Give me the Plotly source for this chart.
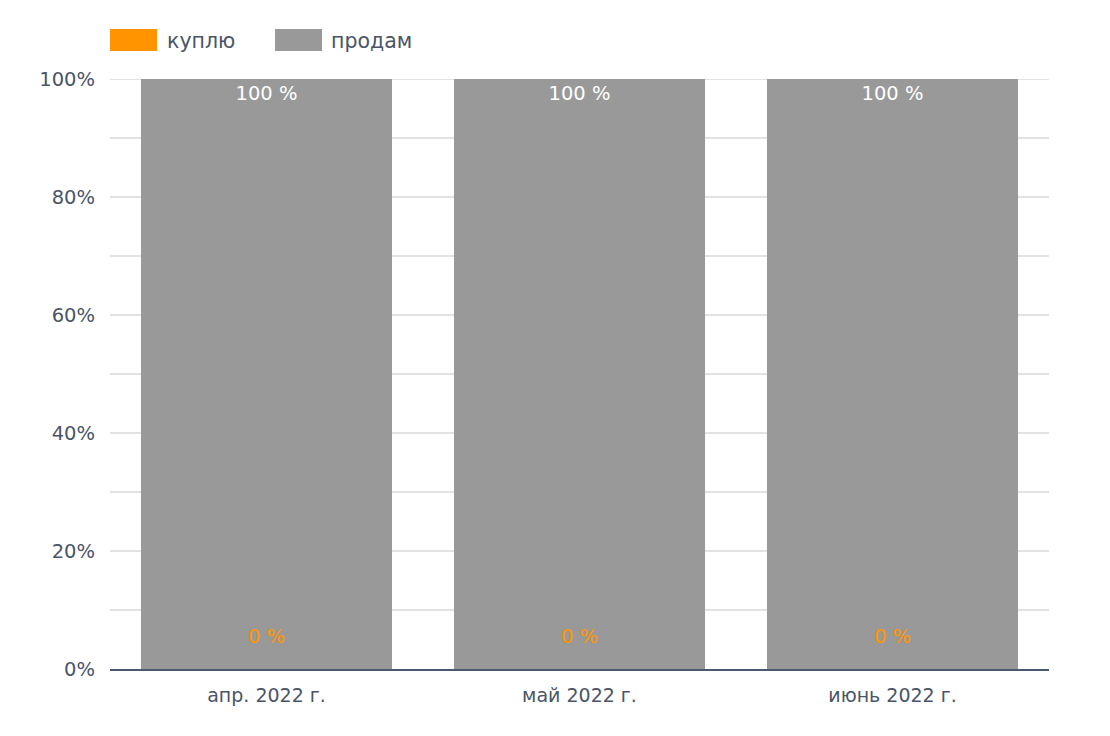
import plotly.graph_objects as go

months = ["апр. 2022 г.", "май 2022 г.", "июнь 2022 г."]
buy_pct = [0, 0, 0]
sell_pct = [100, 100, 100]
series_names = ["куплю", "продам"]

ORANGE = "#ff9400"
GRAY = "#999999"
TEXT = "#4a5568"
FONT = "DejaVu Sans, Noto Sans, sans-serif"

# plot area geometry (px) used to place the hand-drawn legend
L, R, T, B = 102, 69, 71, 75
W, H = 1110, 736
PW, PH = W - L - R, H - T - B


def px_x(x):
    return (x - L) / PW


def px_y(y):
    return (H - B - y) / PH


fig = go.Figure()

fig.add_trace(go.Bar(
    x=months, y=buy_pct, name=series_names[0],
    marker=dict(color=ORANGE, line=dict(width=0)),
    hoverinfo="skip",
))
fig.add_trace(go.Bar(
    x=months, y=sell_pct, name=series_names[1],
    marker=dict(color=GRAY, line=dict(width=0)),
    text=[f"{v} %" for v in sell_pct],
    textposition="inside", insidetextanchor="end",
    textfont=dict(color="white", size=19.5, family=FONT),
    constraintext="none",
    hoverinfo="skip",
))

# labels for the zero "куплю" segments
annotations = []
for m, v in zip(months, buy_pct):
    annotations.append(dict(
        x=m, y=v, xref="x", yref="y",
        text=f"{v} %", showarrow=False,
        yshift=33,
        font=dict(color=ORANGE, size=19.5, family=FONT),
    ))

# legend: large swatches like the original
shapes = []
legend_items = [(series_names[0], ORANGE, 102, 157), (series_names[1], GRAY, 267, 321)]
for name, color, x0, tx in legend_items:
    shapes.append(dict(
        type="rect", xref="paper", yref="paper",
        x0=px_x(x0), x1=px_x(x0 + 47), y0=px_y(43), y1=px_y(21),
        fillcolor=color, line=dict(width=0),
    ))
    annotations.append(dict(
        x=px_x(tx), y=px_y(33), xref="paper", yref="paper",
        xanchor="left", yanchor="middle", showarrow=False,
        text=name, font=dict(size=20.5, color=TEXT, family=FONT),
    ))

# horizontal gridlines every 10%
for g in range(10, 101, 10):
    shapes.append(dict(
        type="line", xref="paper", yref="y",
        x0=0, x1=1, y0=g, y1=g,
        line=dict(color="#d9d9d9", width=1.5), layer="below",
    ))

fig.update_layout(
    barmode="stack",
    bargap=0.2,
    width=W, height=H,
    paper_bgcolor="white",
    plot_bgcolor="white",
    font=dict(family=FONT, color=TEXT, size=19),
    margin=dict(l=L, r=R, t=T, b=B),
    annotations=annotations,
    shapes=shapes,
    showlegend=False,
    xaxis=dict(
        showgrid=False,
        showline=True, linecolor="#4a5a6e", linewidth=1.5,
        ticks="",
        ticklabelstandoff=8,
        tickfont=dict(size=19, color=TEXT),
    ),
    yaxis=dict(
        range=[0, 100],
        tickvals=[0, 20, 40, 60, 80, 100],
        ticktext=["0%", "20%", "40%", "60%", "80%", "100%"],
        showgrid=False,
        zeroline=False,
        ticks="",
        ticklabelstandoff=14,
        tickfont=dict(size=19.5, color=TEXT),
    ),
)

fig.write_html("out.html")
